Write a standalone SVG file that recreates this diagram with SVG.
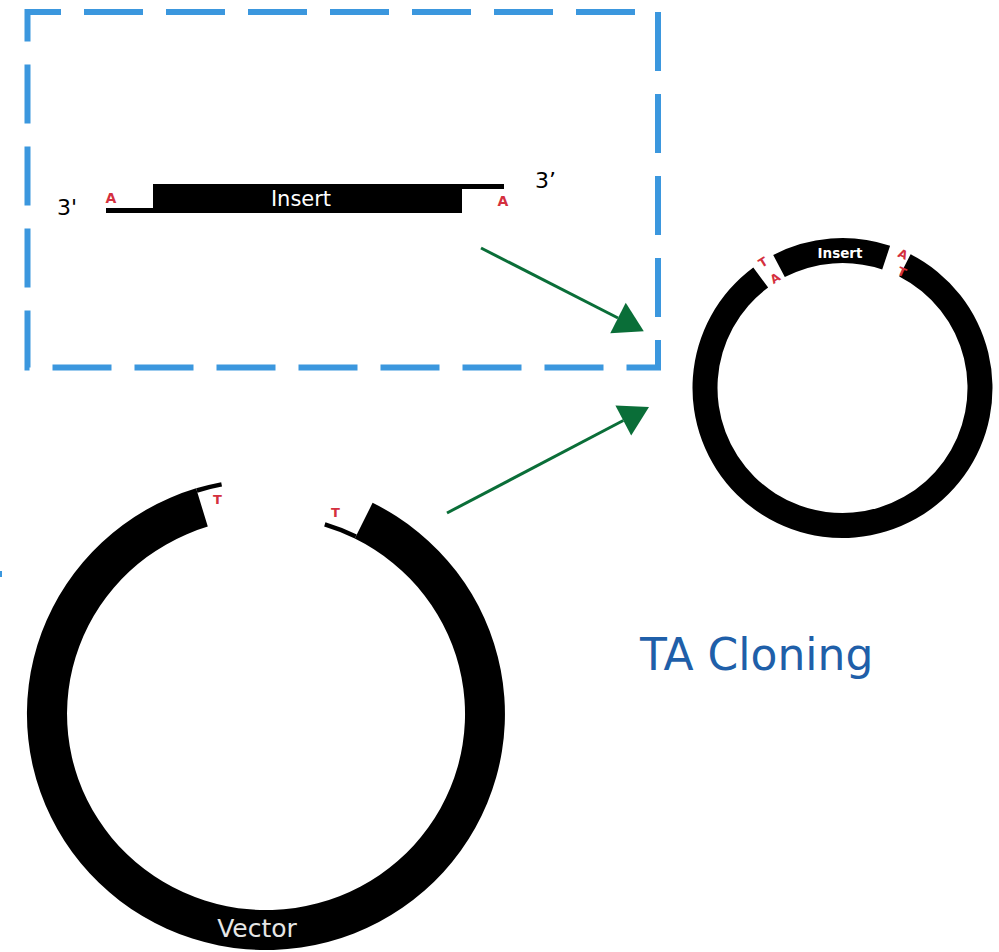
<svg xmlns="http://www.w3.org/2000/svg" width="999" height="952" viewBox="0 0 999 952">
  <style>
    .lbl { font-family: "DejaVu Sans", "Liberation Sans", sans-serif; }
    .nt { font-family: "DejaVu Sans", "Liberation Sans", sans-serif; fill: #d4303e; text-anchor: middle; font-weight: bold; }
    .dna { fill: #000000; }
    .strand { fill: none; stroke: #000000; stroke-width: 4.5; }
    .arrow { fill: none; stroke: #0a6e38; stroke-width: 3; marker-end: url(#head); }
  </style>
  <defs>
    <marker id="head" markerUnits="userSpaceOnUse" markerWidth="30" markerHeight="36" refX="0" refY="17" orient="auto" overflow="visible">
      <path d="M0,0 L29,17 L0,34 Z" fill="#0a6e38"/>
    </marker>
  </defs>

  <rect width="999" height="952" fill="#ffffff"/>

  <!-- dashed frame around the PCR insert -->
  <g id="frame">
    <rect x="27.5" y="12" width="630.5" height="355.5" fill="none" stroke="#3b97de" stroke-width="6" stroke-dasharray="59 23" stroke-dashoffset="25.5"/>
    <rect x="0" y="571" width="2" height="6" fill="#3b97de"/>
  </g>

  <!-- PCR product with single A overhangs -->
  <g id="insert">
    <path class="dna" d="M153,184 H504 V189 H462 V213 H106 V208 H153 Z"/>
    <text class="lbl" x="301" y="206" font-size="21" fill="#ffffff" text-anchor="middle">Insert</text>
    <text class="lbl" x="57" y="215" font-size="22" fill="#000000">3'</text>
    <text class="lbl" x="535" y="188" font-size="22" fill="#000000">3’</text>
    <text class="nt" x="111" y="203" font-size="14">A</text>
    <text class="nt" x="503" y="206" font-size="14">A</text>
  </g>

  <!-- linearised vector with single T overhangs -->
  <g id="vector">
    <path class="dna" d="M372.6,502.8 A239,236 0 1 1 196.1,488.3 L207.8,526.6 A199,196 0 1 0 354.8,538.6 Z"/>
    <path class="strand" d="M196.8,490.5 A236.75,233.75 0 0 1 221.6,484.4"/>
    <path class="strand" d="M324.8,524.4 A201.25,198.25 0 0 1 355.8,536.6"/>
    <text class="nt" x="217.5" y="504" font-size="13">T</text>
    <text class="nt" x="335.5" y="517" font-size="13">T</text>
    <text class="lbl" x="257" y="937" font-size="25" fill="#e6e6e6" text-anchor="middle">Vector</text>
  </g>

  <!-- recombinant plasmid -->
  <g id="plasmid">
    <path class="dna" d="M910.6,254.35 A150,150 0 1 1 753.3,267.4 L768.15,287.5 A125,125 0 1 0 899.25,276.6 Z"/>
    <path class="dna" d="M773.2,254.95 A150,150 0 0 1 890.1,245.8 L882.2,269.5 A125,125 0 0 0 784.8,277.1 Z"/>
    <text class="lbl" x="840" y="258" font-size="13.5" font-weight="bold" fill="#ffffff" text-anchor="middle">Insert</text>
    <text class="nt" font-size="12" transform="translate(763,262) rotate(-32)" y="4.4">T</text>
    <text class="nt" font-size="12" transform="translate(775,278) rotate(-32)" y="4.4">A</text>
    <text class="nt" font-size="12" transform="translate(903,254) rotate(24)" y="4.4">A</text>
    <text class="nt" font-size="12" transform="translate(902,272) rotate(24)" y="4.4">T</text>
  </g>

  <g id="title">
    <text class="lbl" x="640" y="670" font-size="44" fill="#1f5fa9">TA Cloning</text>
  </g>

  <g id="connectors">
    <path class="arrow" d="M481,248 L618,318"/>
    <path class="arrow" d="M447,513 L623.3,420.5"/>
  </g>
</svg>
